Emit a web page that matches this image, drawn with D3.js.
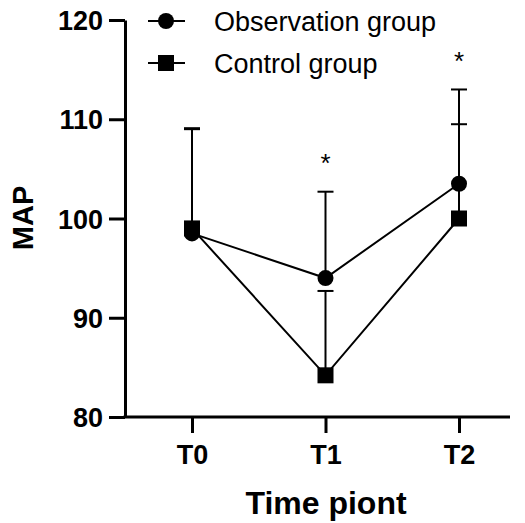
<!DOCTYPE html>
<html>
<head>
<meta charset="utf-8">
<script src="https://cdn.jsdelivr.net/npm/d3@7"></script>
<style>
  body { margin: 0; background: #fff; }
  svg text { font-family: "Liberation Sans", Arial, sans-serif; fill: #000; }
</style>
</head>
<body>
<div id="chart"></div>
<script>
// data
const categories = ["T0", "T1", "T2"];
const observation = [98.5, 94.0, 103.5];
const observationUpper = [109.0, 102.7, 113.0];
const control = [99.0, 84.2, 100.0];
const controlUpper = [109.1, 92.7, 109.5];
const yTicks = [80, 90, 100, 110, 120];
const starCats = ["T1", "T2"];
const starValues = [106.2, 116.5];

const width = 525, height = 523;

const svg = d3.select("#chart").append("svg")
    .attr("width", width)
    .attr("height", height);

const xScale = d3.scalePoint()
    .domain(categories)
    .range([192, 459]);

const yScale = d3.scaleLinear()
    .domain([80, 120])
    .range([417, 20]);

// y axis
const yAxis = svg.append("g")
    .attr("transform", "translate(125,0)")
    .call(d3.axisLeft(yScale).tickValues(yTicks).tickSize(16).tickPadding(6).tickSizeOuter(0));
yAxis.select(".domain").attr("stroke-width", 3);
yAxis.selectAll(".tick line").attr("stroke-width", 3);
yAxis.selectAll("text")
    .attr("font-size", 27)
    .attr("font-weight", "bold")
    .attr("dy", "0.36em");

// x axis
const xAxis = svg.append("g")
    .attr("transform", "translate(0,417)")
    .call(d3.axisBottom(xScale).tickSize(16).tickPadding(12).tickSizeOuter(0));
xAxis.select(".domain").remove();
xAxis.selectAll(".tick line").attr("stroke-width", 3);
xAxis.selectAll("text")
    .attr("font-size", 27)
    .attr("font-weight", "bold");
svg.append("line")
    .attr("x1", 123.5).attr("x2", 510)
    .attr("y1", 417).attr("y2", 417)
    .attr("stroke", "#000")
    .attr("stroke-width", 3);

// axis titles
svg.append("text")
    .attr("x", 326).attr("y", 514)
    .attr("text-anchor", "middle")
    .attr("font-size", 32)
    .attr("font-weight", "bold")
    .text("Time piont");

svg.append("text")
    .attr("transform", "translate(33,218) rotate(-90)")
    .attr("text-anchor", "middle")
    .attr("font-size", 29)
    .attr("font-weight", "bold")
    .text("MAP");

const line = d3.line()
    .x((d, i) => xScale(categories[i]))
    .y(d => yScale(d));

// error bars (upper only)
function errorBars(vals, uppers) {
    const g = svg.append("g").attr("stroke", "#000").attr("stroke-width", 2);
    categories.forEach((c, i) => {
        g.append("line")
            .attr("x1", xScale(c)).attr("x2", xScale(c))
            .attr("y1", yScale(vals[i])).attr("y2", yScale(uppers[i]));
        g.append("line")
            .attr("x1", xScale(c) - 8).attr("x2", xScale(c) + 8)
            .attr("y1", yScale(uppers[i])).attr("y2", yScale(uppers[i]));
    });
}
errorBars(control, controlUpper);
errorBars(observation, observationUpper);

svg.append("path").datum(observation)
    .attr("d", line).attr("fill", "none").attr("stroke", "#000").attr("stroke-width", 2);
svg.append("path").datum(control)
    .attr("d", line).attr("fill", "none").attr("stroke", "#000").attr("stroke-width", 2);

svg.selectAll(".obs").data(observation).enter()
    .append("circle")
    .attr("cx", (d, i) => xScale(categories[i]))
    .attr("cy", d => yScale(d))
    .attr("r", 8)
    .attr("fill", "#000");

svg.selectAll(".ctl").data(control).enter()
    .append("rect")
    .attr("x", (d, i) => xScale(categories[i]) - 8)
    .attr("y", d => yScale(d) - 8)
    .attr("width", 16).attr("height", 16)
    .attr("fill", "#000");

// significance stars (value = star centre)
svg.selectAll(".star").data(starValues).enter()
    .append("text")
    .attr("x", (d, i) => xScale(starCats[i]))
    .attr("y", d => yScale(d))
    .attr("dy", "0.58em")
    .attr("text-anchor", "middle")
    .attr("font-size", 26)
    .text("*");

// legend
const legend = [{ label: "Observation group", shape: "circle" }, { label: "Control group", shape: "square" }];
legend.forEach((l, i) => {
    const y = 21 + i * 42;
    svg.append("line")
        .attr("x1", 148).attr("x2", 185)
        .attr("y1", y).attr("y2", y)
        .attr("stroke", "#000").attr("stroke-width", 2);
    if (l.shape === "circle") {
        svg.append("circle").attr("cx", 166).attr("cy", y).attr("r", 8).attr("fill", "#000");
    } else {
        svg.append("rect").attr("x", 158).attr("y", y - 8).attr("width", 16).attr("height", 16).attr("fill", "#000");
    }
    svg.append("text")
        .attr("x", 214).attr("y", y)
        .attr("dy", "0.36em")
        .attr("font-size", 27)
        .text(l.label);
});
</script>
</body>
</html>
